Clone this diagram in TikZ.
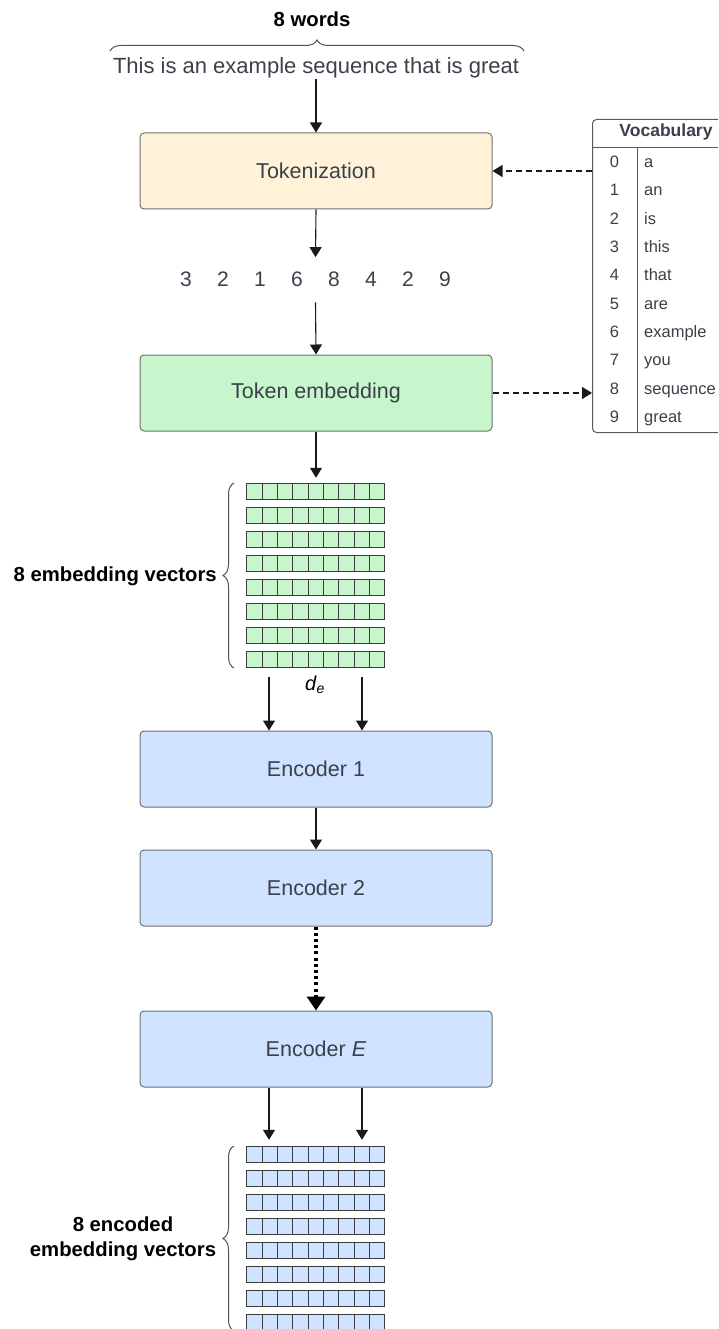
\documentclass[tikz,border=0pt]{standalone}
\usepackage{fontspec}
\setmainfont{Liberation Sans}
\usetikzlibrary{arrows.meta,decorations.pathreplacing,calc}
\definecolor{txt}{HTML}{3A414A}
\definecolor{edge}{HTML}{707070}
\definecolor{tokfill}{HTML}{FFF2D9}
\definecolor{embfill}{HTML}{C7F5CC}
\definecolor{encfill}{HTML}{CFE2FF}
\definecolor{ln}{HTML}{1A1A1A}
\begin{document}
\begin{tikzpicture}[x=1pt,y=-1pt,
 box/.style={draw=edge,line width=1pt,rounded corners=4pt,minimum width=352pt,minimum height=76pt,text=txt,font=\fontsize{21.5}{25}\selectfont},
 arr/.style={draw=ln,line width=1.1pt,-{Triangle[width=12pt,length=10pt]}},
 darr/.style={arr,dash pattern=on 6pt off 4pt},
 dotarr/.style={draw=black,line width=3.2pt,dash pattern=on 3pt off 3.2pt,-{Triangle[width=18pt,length=14pt]}},
 cell/.style={draw=ln!85,line width=0.8pt},
 blabel/.style={font=\fontsize{20.3}{25}\selectfont\bfseries,text=black,inner sep=0pt},
 brc/.style={decorate,decoration={brace,amplitude=11pt},draw=ln!75,line width=1pt},
 vtxt/.style={text=txt,font=\fontsize{16.5}{20}\selectfont,inner sep=0pt},
 gridbox/.style={minimum width=138pt,minimum height=184pt,inner sep=0pt}
]
\useasboundingbox (0,0) rectangle (718,1329);
\clip (0,0) rectangle (718,1329);

% top text
\node[blabel,anchor=base] (words) at (312,27) {8 words};
\draw[brc] (110,51) -- (524,51);
\node[text=txt,font=\fontsize{22}{26}\selectfont,anchor=base,inner sep=0pt] (sent) at (316,74) {This is an example sequence that is great};

% boxes
\node[box,fill=tokfill] (tok) at (316,171) {Tokenization};
\node[text=txt,font=\fontsize{21}{25}\selectfont,anchor=base,inner xsep=0pt,inner ysep=15pt] (ids) at (315.5,287)
 {\makebox[37pt]{3}\makebox[37pt]{2}\makebox[37pt]{1}\makebox[37pt]{6}\makebox[37pt]{8}\makebox[37pt]{4}\makebox[37pt]{2}\makebox[37pt]{9}};
\node[box,fill=embfill] (emb) at (316,393) {Token embedding};

\draw[arr] (sent.south) -- (tok.north);
\draw[arr] (tok.south) -- (ids.north);
\draw[arr] (ids.south) -- (emb.north);

% embedding grid
\node[gridbox] (g1) at (316,576) {};
\foreach \r in {0,...,7}
  \foreach \c in {0,...,8}
    \draw[cell,fill=embfill] ($(g1.north west)+(\c*15.333,\r*24)$) rectangle ++(15.333,16);
\draw[arr,shorten >=6pt] (emb.south) -- (g1.north);
\draw[brc] (234,668) -- (234,483);
\node[blabel,anchor=east] (lab1) at (217,576) {8 embedding vectors};
\node[font=\fontsize{20}{24}\selectfont,text=black] (de) at (315,685) {\textit{d}\textsubscript{\textit{e}}};

% encoders
\node[box,fill=encfill] (enc1) at (316,769) {Encoder 1};
\node[box,fill=encfill] (enc2) at (316,888) {Encoder 2};
\node[box,fill=encfill] (encE) at (316,1049) {Encoder \textit{E}};

\draw[arr] ([xshift=-47pt,yshift=-9pt]g1.south) -- ([xshift=-47pt]enc1.north);
\draw[arr] ([xshift=46pt,yshift=-9pt]g1.south) -- ([xshift=46pt]enc1.north);
\draw[arr] (enc1.south) -- (enc2.north);
\draw[dotarr] (enc2.south) -- (encE.north);

% encoded grid
\node[gridbox] (g2) at (316,1239) {};
\foreach \r in {0,...,7}
  \foreach \c in {0,...,8}
    \draw[cell,fill=encfill] ($(g2.north west)+(\c*15.333,\r*24)$) rectangle ++(15.333,16);
\draw[arr,shorten >=7pt] ([xshift=-47pt]encE.south) -- ([xshift=-47pt]g2.north);
\draw[arr,shorten >=7pt] ([xshift=46pt]encE.south) -- ([xshift=46pt]g2.north);
\draw[brc] (234,1331) -- (234,1146);
\node[blabel,align=center] (lab2) at (123,1239) {8 encoded\\embedding vectors};

% vocabulary table
\node[draw=edge!80!black,line width=1pt,rounded corners=4pt,minimum width=148pt,minimum height=313pt,anchor=north west,inner sep=0pt,fill=white] (vocab) at (592,119) {};
\draw[draw=edge!80!black,line width=1pt] (vocab.west |- 0,148) -- (vocab.east |- 0,148);
\draw[draw=edge!80!black,line width=1pt] (637,148) -- (vocab.south -| 637,0);
\node[text=txt,font=\fontsize{17.5}{20}\selectfont\bfseries,inner sep=0pt] (vhead) at (666,132) {Vocabulary};
\foreach \i/\w in {0/a,1/an,2/is,3/this,4/that,5/are,6/example,7/you,8/sequence,9/great}{
  \node[vtxt,anchor=base] (vn\i) at (614.5,167.6+28.33*\i) {\i};
  \node[vtxt,anchor=base west] (vw\i) at (644,167.6+28.33*\i) {\w};
}
\draw[darr] (vocab.west |- tok.east) -- (tok.east);
\draw[darr] (emb.east) -- (vocab.west |- emb.east);
\end{tikzpicture}
\end{document}
